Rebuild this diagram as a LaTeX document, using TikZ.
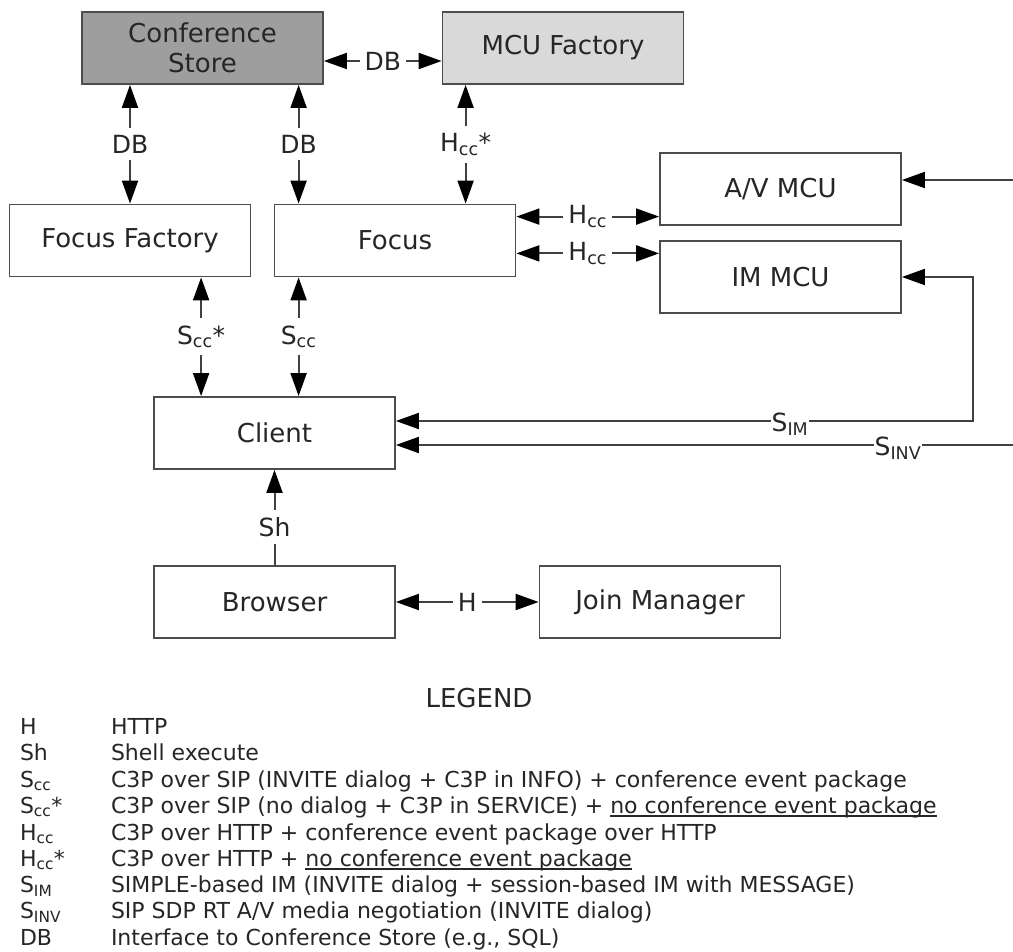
\documentclass[tikz,border=0pt]{standalone}
\usepackage{fontspec}
\setmainfont{DejaVu Sans}
\usetikzlibrary{arrows.meta, positioning, calc}
\definecolor{storegray}{HTML}{9E9E9E}
\definecolor{factgray}{HTML}{D9D9D9}
\definecolor{edgegray}{HTML}{4D4D4D}
\definecolor{linegray}{HTML}{404040}
\definecolor{inkgray}{HTML}{262626}
\newcommand\undl[1]{\setbox0\hbox{#1}\rlap{\rule[-3pt]{\wd0}{1.3pt}}\box0}

\begin{document}
\begin{tikzpicture}[x=1pt, y=-1pt, >={Triangle[length=23pt, width=16pt, color=black]}, line width=2pt,
  box/.style={draw=edgegray, line width=1.8pt, minimum width=241pt, minimum height=72pt,
    inner sep=0pt, text=inkgray, align=center, font=\fontsize{26}{30}\selectfont},
  vlbl/.style={fill=white, text=inkgray, inner xsep=3pt, inner ysep=7pt, font=\fontsize{25}{28}\selectfont},
  hlbl/.style={fill=white, text=inkgray, inner xsep=5pt, inner ysep=2pt, font=\fontsize{25}{28}\selectfont},
  wire/.style={draw=linegray, line width=2pt},
  legtxt/.style={anchor=base west, inner sep=0pt, text=inkgray, font=\fontsize{22}{24}\selectfont}]

% Background
\useasboundingbox (0,0) rectangle (1013,952);
\fill[white] (0,0) rectangle (1013,952);

% Boxes
\node[box, fill=storegray] (store) at (202.5,48) {Conference\\Store};
\node[box, fill=factgray] (mcufac) at (563,48) {MCU Factory};
\node[box] (focfac) at (130,240.5) {Focus Factory};
\node[box] (focus) at (395,240.5) {Focus};
\node[box] (avmcu) at (780.5,189) {A/V MCU};
\node[box] (immcu) at (780.5,277) {IM MCU};
\node[box] (client) at (274.5,433) {Client};
\node[box] (browser) at (274.5,602) {Browser};
\node[box] (joinmgr) at (660,602) {Join Manager};

% Helper points
\coordinate (rim) at (1014,0);
\coordinate (focl) at ($(focus.north west)+(25,0)$);
\coordinate (hstar) at ($(mcufac.south west)+(24,0)$);
\coordinate (scstar) at ($(client.north west)+(48,0)$);
\coordinate (hccA) at ($(focus.north east)+(0,13)$);
\coordinate (hccB) at ($(focus.south east)+(0,-24)$);
\coordinate (avin) at ($(avmcu.east)+(0,-9)$);
\coordinate (imturn) at ($(immcu.east)+(71,0)$);
\coordinate (simY) at ($(client.east)+(0,-12)$);
\coordinate (sinvY) at ($(client.east)+(0,12)$);

% DB links
\draw[wire, <->] ($(store.east)+(0,13)$) -- ($(mcufac.west)+(0,13)$) node[hlbl, midway] (dbmcu) {DB};
\draw[wire, <->] (store.south -| focfac.north) -- (focfac.north) node[vlbl, midway] (dbff) {DB};
\draw[wire, <->] (store.south -| focl) -- (focl) node[vlbl, midway] (dbfoc) {DB};

% HTTP control links
\draw[wire, <->] (hstar) -- (hstar |- focus.north) node[vlbl, midway] (hccstar) {H\textsubscript{cc}*};
\draw[wire, <->] (hccA) -- (hccA -| avmcu.west) node[hlbl, midway] (hccav) {H\textsubscript{cc}};
\draw[wire, <->] (hccB) -- (hccB -| immcu.west) node[hlbl, midway] (hccim) {H\textsubscript{cc}};

% SIP links to the client
\draw[wire, <->] (scstar |- focfac.south) -- (scstar) node[vlbl, midway] (sccstar) {S\textsubscript{cc}*};
\draw[wire, <->] (focl |- focus.south) -- (focl |- client.north) node[vlbl, midway] (scc) {S\textsubscript{cc}};
\draw[wire, ->] (avin -| rim) -- (avin);
\draw[wire, <->] (immcu.east) -- (imturn) -- (imturn |- simY) -- (client.east |- simY);
\draw[wire, ->] (sinvY -| rim) -- (sinvY);
\node[hlbl, inner sep=1pt] (simlbl) at (790,424) {S\textsubscript{IM}};
\node[hlbl, inner sep=1pt] (sinvlbl) at (898,448) {S\textsubscript{INV}};

% Browser links
\draw[wire, ->] (browser.north) -- (client.south) node[vlbl, pos=0.4] (sh) {Sh};
\draw[wire, <->] (browser.east) -- (joinmgr.west) node[hlbl, midway] (hlink) {H};

% Legend
\node[text=inkgray, font=\fontsize{26}{30}\selectfont] (legend) at (479,698) {LEGEND};
\foreach \abbr/\desc/\yy [count=\i] in {
  H/HTTP/734,
  Sh/Shell execute/760.5,
  S\textsubscript{cc}/{C3P over SIP (INVITE dialog + C3P in INFO) + conference event package}/787,
  S\textsubscript{cc}*/{C3P over SIP (no dialog + C3P in SERVICE) + \undl{no conference event package}}/813.5,
  H\textsubscript{cc}/{C3P over HTTP + conference event package over HTTP}/840,
  H\textsubscript{cc}*/{C3P over HTTP + \undl{no conference event package}}/866.5,
  S\textsubscript{IM}/{SIMPLE-based IM (INVITE dialog + session-based IM with MESSAGE)}/892,
  S\textsubscript{INV}/{SIP SDP RT A/V media negotiation (INVITE dialog)}/918,
  DB/{Interface to Conference Store (e.g., SQL)}/945} {
  \node[legtxt] (ab\i) at (19,\yy) {\abbr};
  \node[legtxt] (de\i) at (110,\yy) {\desc};
}

\end{tikzpicture}
\end{document}
